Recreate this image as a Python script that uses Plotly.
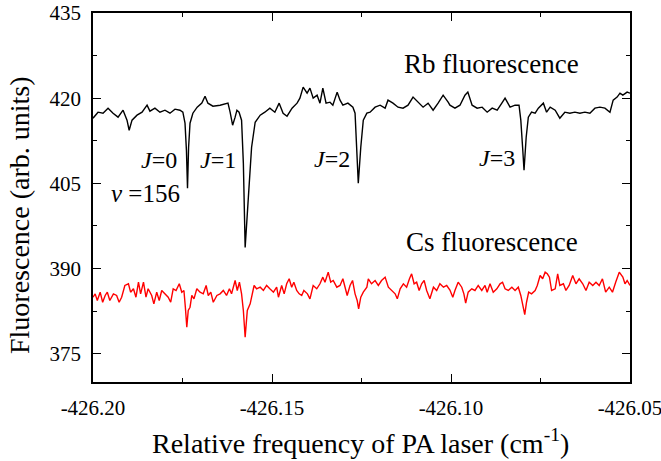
import plotly.graph_objects as go

# Rb fluorescence trace (black)
rb_freq = [-426.2000, -426.1986, -426.1972, -426.1958, -426.1944, -426.1930, -426.1916, -426.1905,
           -426.1899, -426.1891, -426.1877, -426.1863, -426.1849, -426.1841, -426.1827, -426.1813,
           -426.1799, -426.1785, -426.1771, -426.1757, -426.1749, -426.1743, -426.1739, -426.1736,
           -426.1733, -426.1729, -426.1721, -426.1709, -426.1696, -426.1687, -426.1679, -426.1665,
           -426.1645, -426.1631, -426.1623, -426.1617, -426.1610, -426.1603, -426.1598, -426.1592,
           -426.1585, -426.1580, -426.1575, -426.1566, -426.1557, -426.1547, -426.1533, -426.1520,
           -426.1506, -426.1492, -426.1480, -426.1469, -426.1458, -426.1444, -426.1430, -426.1422,
           -426.1413, -426.1402, -426.1394, -426.1385, -426.1374, -426.1366, -426.1358, -426.1349,
           -426.1338, -426.1330, -426.1318, -426.1310, -426.1302, -426.1288, -426.1274, -426.1268,
           -426.1263, -426.1259, -426.1252, -426.1245, -426.1235, -426.1226, -426.1212, -426.1198,
           -426.1184, -426.1176, -426.1162, -426.1148, -426.1134, -426.1120, -426.1106, -426.1092,
           -426.1078, -426.1064, -426.1050, -426.1036, -426.1022, -426.1008, -426.1003, -426.0989,
           -426.0975, -426.0961, -426.0953, -426.0941, -426.0927, -426.0913, -426.0899, -426.0885,
           -426.0871, -426.0858, -426.0849, -426.0835, -426.0821, -426.0810, -426.0805, -426.0800,
           -426.0796, -426.0790, -426.0784, -426.0775, -426.0765, -426.0756, -426.0742, -426.0733,
           -426.0723, -426.0709, -426.0696, -426.0682, -426.0668, -426.0654, -426.0640, -426.0626,
           -426.0612, -426.0598, -426.0584, -426.0570, -426.0556, -426.0547, -426.0536, -426.0528,
           -426.0520, -426.0508, -426.0500]
rb_signal = [416.47, 417.53, 417.35, 418.24, 417.35, 416.65, 417.88, 416.12,
             414.35, 416.12, 417.00, 417.53, 418.76, 417.71, 418.24, 417.53,
             417.88, 417.35, 418.06, 417.88, 417.53, 415.59, 410.80, 404.12,
             411.35, 415.59, 417.35, 418.41, 419.12, 420.35, 419.12, 418.59,
             418.76, 418.94, 419.12, 417.53, 415.24, 416.65, 417.88, 417.53,
             416.12, 408.53, 393.70, 402.53, 411.35, 415.76, 417.00, 417.53,
             418.24, 417.53, 419.12, 417.35, 416.82, 418.24, 419.12, 420.00,
             421.94, 420.88, 421.76, 420.00, 420.53, 419.12, 421.76, 419.12,
             419.29, 418.76, 421.06, 419.65, 418.76, 419.12, 418.41, 417.35,
             411.35, 405.00, 411.35, 416.12, 417.35, 417.53, 418.41, 418.76,
             418.24, 419.65, 419.12, 418.41, 418.24, 418.76, 420.18, 419.29,
             418.41, 419.12, 417.88, 419.12, 420.53, 419.29, 418.76, 418.24,
             418.76, 420.53, 421.06, 418.76, 418.24, 418.41, 417.53, 418.24,
             417.88, 419.12, 420.00, 418.41, 418.76, 418.76, 416.12, 411.35,
             407.29, 413.12, 416.65, 417.53, 417.35, 418.24, 419.12, 417.53,
             418.41, 417.88, 416.47, 417.53, 417.35, 417.53, 417.35, 417.53,
             417.35, 418.24, 418.41, 418.24, 417.53, 419.65, 420.18, 420.88,
             420.53, 421.06, 420.88]

# Cs fluorescence trace (red)
cs_freq = [-426.2000, -426.1994, -426.1988, -426.1980, -426.1973, -426.1966, -426.1960, -426.1953,
           -426.1943, -426.1934, -426.1927, -426.1920, -426.1911, -426.1901, -426.1895, -426.1887,
           -426.1880, -426.1873, -426.1867, -426.1859, -426.1852, -426.1846, -426.1836, -426.1830,
           -426.1822, -426.1815, -426.1808, -426.1799, -426.1790, -426.1783, -426.1776, -426.1768,
           -426.1759, -426.1752, -426.1746, -426.1742, -426.1738, -426.1734, -426.1729, -426.1724,
           -426.1718, -426.1710, -426.1701, -426.1692, -426.1684, -426.1678, -426.1671, -426.1664,
           -426.1654, -426.1645, -426.1636, -426.1627, -426.1619, -426.1613, -426.1603, -426.1597,
           -426.1591, -426.1585, -426.1580, -426.1575, -426.1569, -426.1561, -426.1555, -426.1550,
           -426.1543, -426.1533, -426.1524, -426.1515, -426.1506, -426.1496, -426.1487, -426.1482,
           -426.1473, -426.1466, -426.1459, -426.1452, -426.1445, -426.1439, -426.1431, -426.1424,
           -426.1417, -426.1411, -426.1401, -426.1394, -426.1385, -426.1375, -426.1366, -426.1358,
           -426.1352, -426.1343, -426.1336, -426.1329, -426.1319, -426.1310, -426.1302, -426.1296,
           -426.1290, -426.1282, -426.1275, -426.1268, -426.1262, -426.1258, -426.1252, -426.1245,
           -426.1235, -426.1231, -426.1222, -426.1212, -426.1203, -426.1194, -426.1184, -426.1175,
           -426.1166, -426.1156, -426.1150, -426.1142, -426.1133, -426.1124, -426.1116, -426.1110,
           -426.1103, -426.1096, -426.1089, -426.1082, -426.1075, -426.1068, -426.1059, -426.1049,
           -426.1040, -426.1031, -426.1021, -426.1012, -426.1003, -426.0995, -426.0989, -426.0980,
           -426.0970, -426.0964, -426.0959, -426.0952, -426.0942, -426.0933, -426.0924, -426.0914,
           -426.0905, -426.0899, -426.0891, -426.0882, -426.0872, -426.0863, -426.0856, -426.0849,
           -426.0840, -426.0830, -426.0821, -426.0812, -426.0805, -426.0800, -426.0794, -426.0789,
           -426.0783, -426.0775, -426.0765, -426.0759, -426.0751, -426.0744, -426.0737, -426.0731,
           -426.0725, -426.0719, -426.0709, -426.0702, -426.0696, -426.0686, -426.0679, -426.0670,
           -426.0660, -426.0651, -426.0642, -426.0632, -426.0623, -426.0614, -426.0604, -426.0595,
           -426.0586, -426.0577, -426.0568, -426.0558, -426.0549, -426.0540, -426.0530, -426.0520,
           -426.0514, -426.0508, -426.0500]
cs_signal = [384.94, 385.53, 384.35, 385.82, 384.05, 385.24, 385.82, 384.35,
             385.53, 385.24, 384.05, 384.94, 387.00, 387.30, 385.82, 386.42,
             384.94, 387.58, 385.53, 387.58, 384.94, 386.42, 385.24, 383.77,
             385.82, 384.35, 386.12, 385.53, 384.94, 384.05, 386.42, 386.12,
             387.30, 385.82, 386.12, 383.17, 379.64, 382.59, 383.17, 385.24,
             384.65, 386.42, 385.82, 385.53, 387.00, 385.24, 385.82, 384.05,
             385.24, 385.53, 386.12, 385.24, 386.42, 385.53, 387.88, 386.12,
             387.58, 385.53, 382.59, 377.88, 382.59, 383.77, 385.53, 387.00,
             386.42, 386.70, 386.12, 387.00, 386.42, 385.82, 386.70, 384.94,
             387.00, 385.53, 387.30, 388.18, 386.70, 387.58, 386.12, 385.53,
             385.24, 386.12, 385.53, 384.65, 387.00, 386.42, 387.30, 388.47,
             387.58, 389.35, 387.58, 387.88, 386.70, 387.00, 388.18, 386.42,
             385.24, 387.00, 387.88, 385.53, 384.35, 382.89, 384.94, 385.82,
             386.70, 388.18, 387.30, 387.88, 387.00, 387.88, 388.47, 386.70,
             386.12, 385.53, 384.65, 386.42, 387.30, 386.70, 388.18, 389.06,
             387.30, 387.58, 386.12, 387.30, 387.88, 386.12, 384.65, 386.70,
             386.12, 387.30, 386.70, 387.00, 386.20, 384.94, 386.12, 387.58,
             386.70, 385.53, 383.88, 385.82, 386.42, 386.12, 387.00, 386.12,
             387.00, 385.82, 387.30, 385.82, 386.42, 387.30, 387.58, 386.42,
             386.12, 386.70, 386.12, 386.70, 385.24, 383.77, 381.88, 384.05,
             385.82, 385.53, 386.12, 387.00, 388.76, 388.18, 389.35, 389.06,
             388.47, 386.12, 386.42, 389.06, 387.00, 387.30, 386.12, 387.00,
             388.76, 387.30, 388.18, 387.30, 386.12, 387.58, 387.00, 387.58,
             387.00, 388.18, 385.82, 386.70, 385.82, 387.58, 389.35, 388.47,
             387.30, 387.88, 387.00]

x_ticks = [-426.20, -426.15, -426.10, -426.05]
x_tick_labels = ["-426.20", "-426.15", "-426.10", "-426.05"]
y_ticks = [375, 390, 405, 420, 435]
y_tick_labels = ["375", "390", "405", "420", "435"]

FONT = "Times New Roman"
TICKFONT = dict(family=FONT, size=21, color="black")

fig = go.Figure()
fig.add_trace(go.Scatter(x=rb_freq, y=rb_signal, mode="lines",
                         line=dict(color="black", width=1.4), name="Rb fluorescence"))
fig.add_trace(go.Scatter(x=cs_freq, y=cs_signal, mode="lines",
                         line=dict(color="#ff0000", width=1.4), name="Cs fluorescence"))

fig.update_layout(
    width=661, height=461,
    margin=dict(l=93, r=31, t=13, b=79),
    paper_bgcolor="white", plot_bgcolor="white",
    showlegend=False,
    font=dict(family=FONT, size=21, color="black"),
)
fig.update_xaxes(
    range=[-426.20, -426.05], tickmode="array", tickvals=x_ticks, ticktext=x_tick_labels,
    ticklabelstandoff=6, ticklabeloverflow="allow", tickfont=TICKFONT,
    showline=True, linecolor="black", linewidth=1.5, mirror="allticks",
    ticks="inside", ticklen=8, tickwidth=1.3, tickcolor="black",
    showgrid=False, zeroline=False, automargin=False,
    minor=dict(ticks="inside", ticklen=4, tickwidth=1.3, tickcolor="black",
               dtick=0.025, tick0=-426.20, showgrid=False),
)
fig.update_yaxes(
    range=[370, 435], tickmode="array", tickvals=y_ticks, ticktext=y_tick_labels,
    ticklabelstandoff=6, tickfont=TICKFONT,
    showline=True, linecolor="black", linewidth=1.5, mirror="allticks",
    ticks="inside", ticklen=8, tickwidth=1.3, tickcolor="black",
    showgrid=False, zeroline=False, automargin=False,
    minor=dict(ticks="inside", ticklen=4, tickwidth=1.3, tickcolor="black",
               dtick=7.5, tick0=375, showgrid=False),
)

def px_to_paper(px, py):
    return (px - 93) / 537.0, (382 - py) / 369.0

labels = [
    ("Rb fluorescence", 491, 64, 27, 0),
    ("Cs fluorescence", 492, 242, 27, 0),
    ("<i>J</i>=0", 159, 160, 24, 0),
    ("<i>ν</i> =156", 145, 193, 25, 0),
    ("<i>J</i>=1", 218, 160, 24, 0),
    ("<i>J</i>=2", 332, 159, 24, 0),
    ("<i>J</i>=3", 497, 158, 24, 0),
    ("Relative frequency of PA laser (cm<sup>-1</sup>)", 360, 441, 28, 0),
    ("Fluorescence (arb. units)", 19, 215, 28, -90),
]
for text, px, py, size, ang in labels:
    xp, yp = px_to_paper(px, py)
    fig.add_annotation(text=text, x=xp, y=yp, xref="paper", yref="paper",
                       showarrow=False, xanchor="center", yanchor="middle",
                       textangle=ang,
                       font=dict(family=FONT, size=size, color="black"))

fig.write_html("out.html", config={"displayModeBar": False},
               post_script="document.body.style.margin='0';document.body.style.padding='0';")
